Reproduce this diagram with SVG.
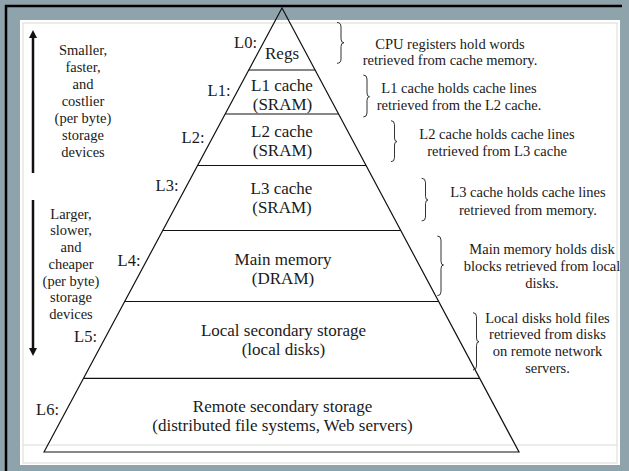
<svg xmlns="http://www.w3.org/2000/svg" width="629" height="471" viewBox="0 0 629 471">
<style>
text{font-family:"Liberation Serif","Times New Roman",serif;fill:#1a1a1a}
.lv{font-size:16.5px;text-anchor:end}
.band{font-size:17px;text-anchor:middle}
.note{font-size:14.5px;text-anchor:middle}
.side{font-size:14.5px;text-anchor:middle}
.ln{stroke:#111;stroke-width:1.2;fill:none}
.brace{stroke:#333;stroke-width:1;fill:none}
.arr{stroke:#111;stroke-width:2.5}
</style>
<defs>
<marker id="ah" viewBox="0 0 10 10" refX="5" refY="5" markerWidth="3.2" markerHeight="3.6" orient="auto-start-reverse" markerUnits="strokeWidth">
<path d="M0,0 L10,5 L0,10 z" fill="#111"/>
</marker>
</defs>
<g id="frame">
<rect x="0" y="0" width="629" height="471" fill="#8fa3ad"/>
<rect x="20" y="20" width="600" height="445" fill="#ffffff"/>
<rect x="23" y="23" width="594" height="440" fill="none" stroke="#d9dcd4" stroke-width="1"/>
<line x1="23" y1="445" x2="617" y2="445" stroke="#d9dcd4" stroke-width="1"/>
<line x1="5" y1="6" x2="622" y2="6" stroke="#000" stroke-width="2.5"/>
<line x1="6" y1="5" x2="6" y2="471" stroke="#000" stroke-width="2.5"/>
</g>
<g id="connectors">
<path class="ln" d="M44,452 L282,8 L519,452 Z"/>
<line class="ln" x1="248.8" y1="70" x2="315.1" y2="70"/>
<line class="ln" x1="225.2" y1="114" x2="338.6" y2="114"/>
<line class="ln" x1="197.6" y1="165.5" x2="366.1" y2="165.5"/>
<line class="ln" x1="162.7" y1="230.5" x2="400.8" y2="230.5"/>
<line class="ln" x1="124.6" y1="301.5" x2="438.7" y2="301.5"/>
<line class="ln" x1="83.5" y1="378.3" x2="479.7" y2="378.3"/>
<line class="arr" x1="33" y1="173" x2="33" y2="34" marker-end="url(#ah)"/>
<line class="arr" x1="33" y1="200" x2="33" y2="352" marker-end="url(#ah)"/>
<path class="brace" d="M337,22.5 Q341,22.5 341,27 L341,39 Q341,42.7 344,42.7 Q341,42.7 341,46.5 L341,59 Q341,63.3 337,63.3"/>
<path class="brace" d="M363.3,75 Q367,75 367,79 L367,93 Q367,96.7 369.5,96.7 Q367,96.7 367,100.5 L367,113 Q367,117 363.3,117"/>
<path class="brace" d="M391,120.7 Q394.5,120.7 394.5,124.7 L394.5,138 Q394.5,141.5 397,141.5 Q394.5,141.5 394.5,145 L394.5,157.7 Q394.5,161.7 391,161.7"/>
<path class="brace" d="M421.7,178.3 Q425.5,178.3 425.5,182.3 L425.5,196.3 Q425.5,200 428,200 Q425.5,200 425.5,203.7 L425.5,217 Q425.5,221 421.7,221"/>
<path class="brace" d="M437.3,236 Q441,236 441,240 L441,261.3 Q441,265 443.5,265 Q441,265 441,268.7 L441,291.7 Q441,295.7 437.3,295.7"/>
<path class="brace" d="M473,312.7 Q476.5,312.7 476.5,316.7 L476.5,338 Q476.5,341.7 479,341.7 Q476.5,341.7 476.5,345.4 L476.5,366 Q476.5,370 473,370"/>
</g>
<g id="L0">
<text class="lv" x="257" y="48">L0:</text>
<text class="band" x="282" y="59">Regs</text>
<text class="note" x="450" y="48.5">CPU registers hold words</text>
<text class="note" x="450" y="65">retrieved from cache memory.</text>
</g>
<g id="L1">
<text class="lv" x="230.5" y="96">L1:</text>
<text class="band" x="282" y="91">L1 cache</text>
<text class="band" x="282.5" y="110">(SRAM)</text>
<text class="note" x="459" y="92.5">L1 cache holds cache lines</text>
<text class="note" x="459" y="109.5">retrieved from the L2 cache.</text>
</g>
<g id="L2">
<text class="lv" x="204.5" y="142.5">L2:</text>
<text class="band" x="282" y="137">L2 cache</text>
<text class="band" x="282.5" y="155.5">(SRAM)</text>
<text class="note" x="497" y="138.5">L2 cache holds cache lines</text>
<text class="note" x="497" y="156">retrieved from L3 cache</text>
</g>
<g id="L3">
<text class="lv" x="178.5" y="191">L3:</text>
<text class="band" x="281.5" y="194">L3 cache</text>
<text class="band" x="282" y="212.5">(SRAM)</text>
<text class="note" x="528" y="197">L3 cache holds cache lines</text>
<text class="note" x="528" y="214.5">retrieved from memory.</text>
</g>
<g id="L4">
<text class="lv" x="140.5" y="265.5">L4:</text>
<text class="band" x="283" y="265">Main memory</text>
<text class="band" x="283" y="284">(DRAM)</text>
<text class="note" x="542" y="254">Main memory holds disk</text>
<text class="note" x="542" y="271">blocks retrieved from local</text>
<text class="note" x="542" y="287.5">disks.</text>
</g>
<g id="L5">
<text class="lv" x="97" y="341.5">L5:</text>
<text class="band" x="283.5" y="335.5">Local secondary storage</text>
<text class="band" x="283.5" y="354.5">(local disks)</text>
<text class="note" x="547.5" y="322.5">Local disks hold files</text>
<text class="note" x="547.5" y="339">retrieved from disks</text>
<text class="note" x="547.5" y="356">on remote network</text>
<text class="note" x="547.5" y="373">servers.</text>
</g>
<g id="L6">
<text class="lv" x="59" y="415">L6:</text>
<text class="band" x="282.5" y="412">Remote secondary storage</text>
<text class="band" x="282.5" y="431">(distributed file systems, Web servers)</text>
</g>
<g id="side-top">
<text class="side" x="83" y="55">Smaller,</text>
<text class="side" x="83" y="72">faster,</text>
<text class="side" x="83" y="89">and</text>
<text class="side" x="83" y="106">costlier</text>
<text class="side" x="83" y="123">(per byte)</text>
<text class="side" x="83" y="140">storage</text>
<text class="side" x="83" y="157">devices</text>
</g>
<g id="side-bottom">
<text class="side" x="71" y="218.5">Larger,</text>
<text class="side" x="71" y="235.3">slower,</text>
<text class="side" x="71" y="252">and</text>
<text class="side" x="71" y="268.8">cheaper</text>
<text class="side" x="71" y="285.5">(per byte)</text>
<text class="side" x="71" y="302.3">storage</text>
<text class="side" x="71" y="319">devices</text>
</g>
</svg>
